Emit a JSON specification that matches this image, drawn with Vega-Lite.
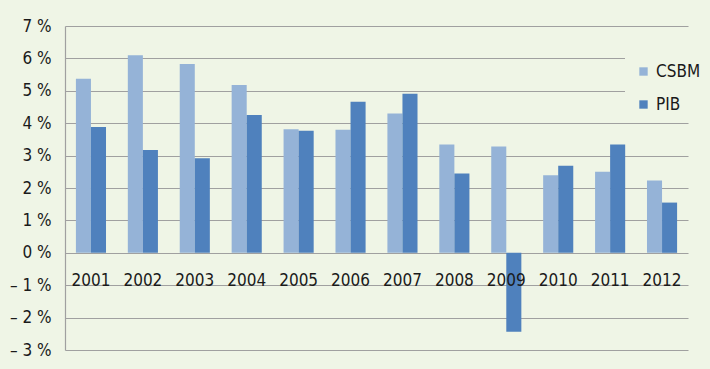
{
  "$schema": "https://vega.github.io/schema/vega-lite/v6.json",
  "autosize": {"type": "none"},
  "width": 623,
  "height": 324,
  "padding": {"left": 65, "top": 26, "right": 22, "bottom": 19},
  "background": "#eff5e6",
  "data": {
    "values": [
      {"year": "2001", "series": "CSBM", "value": 5.37},
      {"year": "2001", "series": "PIB", "value": 3.88},
      {"year": "2002", "series": "CSBM", "value": 6.10},
      {"year": "2002", "series": "PIB", "value": 3.17},
      {"year": "2003", "series": "CSBM", "value": 5.83},
      {"year": "2003", "series": "PIB", "value": 2.92},
      {"year": "2004", "series": "CSBM", "value": 5.18},
      {"year": "2004", "series": "PIB", "value": 4.25},
      {"year": "2005", "series": "CSBM", "value": 3.81},
      {"year": "2005", "series": "PIB", "value": 3.77},
      {"year": "2006", "series": "CSBM", "value": 3.80},
      {"year": "2006", "series": "PIB", "value": 4.66},
      {"year": "2007", "series": "CSBM", "value": 4.30},
      {"year": "2007", "series": "PIB", "value": 4.91},
      {"year": "2008", "series": "CSBM", "value": 3.34},
      {"year": "2008", "series": "PIB", "value": 2.45},
      {"year": "2009", "series": "CSBM", "value": 3.28},
      {"year": "2009", "series": "PIB", "value": -2.44},
      {"year": "2010", "series": "CSBM", "value": 2.39},
      {"year": "2010", "series": "PIB", "value": 2.69},
      {"year": "2011", "series": "CSBM", "value": 2.50},
      {"year": "2011", "series": "PIB", "value": 3.34},
      {"year": "2012", "series": "CSBM", "value": 2.23},
      {"year": "2012", "series": "PIB", "value": 1.55}
    ]
  },
  "mark": {"type": "bar"},
  "encoding": {
    "x": {
      "field": "year",
      "type": "nominal",
      "scale": {"paddingInner": 0.42, "paddingOuter": 0.21},
      "axis": {
        "title": null,
        "orient": "bottom",
        "offset": -97,
        "zindex": 1,
        "domain": false,
        "ticks": false,
        "grid": false,
        "labelAngle": 0,
        "labelPadding": 19,
        "labelFont": "Liberation Sans Narrow, DejaVu Sans Condensed, sans-serif",
        "labelFontSize": 17,
        "labelColor": "#1a1a1a"
      }
    },
    "xOffset": {"field": "series", "type": "nominal", "sort": ["CSBM", "PIB"]},
    "y": {
      "field": "value",
      "type": "quantitative",
      "scale": {"domain": [-3, 7], "nice": false, "zero": false},
      "axis": {
        "title": null,
        "values": [-3, -2, -1, 0, 1, 2, 3, 4, 5, 6, 7],
        "labelExpr": "datum.value < 0 ? '\u2013 ' + (-datum.value) + ' %' : datum.value + ' %'",
        "ticks": false,
        "labelPadding": 14,
        "domain": true,
        "domainColor": "#a0a0a0",
        "domainWidth": 1.2,
        "grid": true,
        "gridColor": "#a0a0a0",
        "gridWidth": 1.2,
        "labelFont": "Liberation Sans Narrow, DejaVu Sans Condensed, sans-serif",
        "labelFontSize": 17,
        "labelColor": "#1a1a1a"
      }
    },
    "color": {
      "field": "series",
      "type": "nominal",
      "scale": {"domain": ["CSBM", "PIB"], "range": ["#95b3d7", "#4f81bd"]},
      "legend": {
        "title": null,
        "orient": "none",
        "legendX": 560,
        "legendY": 27,
        "padding": 10,
        "fillColor": "#eff5e6",
        "symbolType": "square",
        "symbolSize": 70,
        "symbolStrokeWidth": 0,
        "labelFont": "Liberation Sans Narrow, DejaVu Sans Condensed, sans-serif",
        "labelFontSize": 17,
        "labelColor": "#1a1a1a",
        "rowPadding": 15,
        "labelOffset": 4
      }
    }
  },
  "config": {
    "view": {"stroke": null}
  }
}
